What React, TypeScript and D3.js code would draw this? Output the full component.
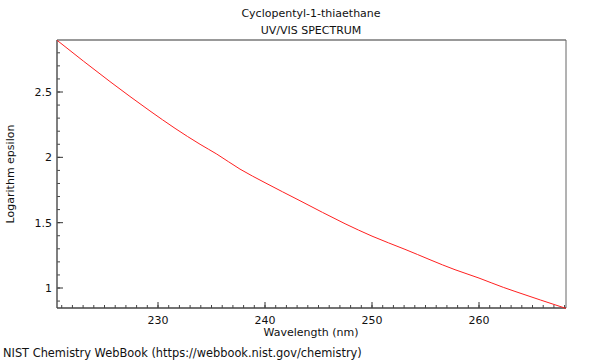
import React from "react";
import * as d3 from "d3";

const wavelengths = [220.56, 225.51, 229.25, 231.59, 233.93, 235.49, 237.66, 240, 243.27, 247.48, 250, 253.08, 257.76, 260, 262.27, 263.36, 268.13];
const logEps = [2.896, 2.58, 2.355, 2.222, 2.1, 2.025, 1.91, 1.806, 1.668, 1.492, 1.397, 1.296, 1.14, 1.076, 1.005, 0.974, 0.844];
const xTicks = [230, 240, 250, 260];
const yTicks = [1, 1.5, 2, 2.5];
const yTickLabels = ["1", "1.5", "2", "2.5"];

const W = 600, H = 360;
const L = 57, R = 566, T = 40, B = 308;
const FONT = "DejaVu Sans, sans-serif";

export default function App() {
  const x = d3.scaleLinear().domain([220.56, 268.13]).range([L, R]);
  const y = d3.scaleLinear().domain([0.847, 2.898]).range([B, T]);
  const data = wavelengths.map((w, i) => [w, logEps[i]] as [number, number]);
  const line = d3.line<[number, number]>().x(d => x(d[0])).y(d => y(d[1])).curve(d3.curveMonotoneX);
  const xMinor = d3.range(221, 269, 1);
  const yMinor = d3.range(0.9, 2.9, 0.1).map(v => Math.round(v * 10) / 10);

  return (
    <svg width={W} height={H} style={{ position: "absolute", left: 0, top: 0 }}>
      <rect width={W} height={H} fill="#fff" />
      <text x={311} y={17} textAnchor="middle" fontFamily={FONT} fontSize={11} fill="#111">Cyclopentyl-1-thiaethane</text>
      <text x={311} y={34} textAnchor="middle" fontFamily={FONT} fontSize={11} fill="#111">UV/VIS SPECTRUM</text>
      <line x1={L} x2={R} y1={T} y2={T} stroke="#999" strokeWidth={2} />
      <line x1={R} x2={R} y1={T} y2={B} stroke="#666" strokeWidth={1} />
      {xMinor.map(v => (
        <line key={"xm" + v} x1={x(v)} x2={x(v)} y1={B} y2={B - 3} stroke="#444" />
      ))}
      {xTicks.map(v => (
        <g key={"xt" + v}>
          <line x1={x(v)} x2={x(v)} y1={B} y2={B - 6} stroke="#333" />
          <text x={x(v)} y={B + 16} textAnchor="middle" fontFamily={FONT} fontSize={11} fill="#111">{v}</text>
        </g>
      ))}
      {yMinor.map(v => (
        <line key={"ym" + v} x1={L} x2={L + 3} y1={y(v)} y2={y(v)} stroke="#444" />
      ))}
      {yTicks.map((v, i) => (
        <g key={"yt" + v}>
          <line x1={L} x2={L + 6} y1={y(v)} y2={y(v)} stroke="#333" />
          <text x={L - 5} y={y(v) + 4} textAnchor="end" fontFamily={FONT} fontSize={11} fill="#111">{yTickLabels[i]}</text>
        </g>
      ))}
      <line x1={L} x2={L} y1={T} y2={B} stroke="#555" strokeWidth={1.5} />
      <line x1={L} x2={R} y1={B} y2={B} stroke="#444" strokeWidth={1.5} />
      <path d={line(data) || ""} fill="none" stroke="#ff2020" strokeWidth={1} />
      <text x={311} y={336} textAnchor="middle" fontFamily={FONT} fontSize={11} fill="#111">Wavelength (nm)</text>
      <text transform={`translate(14,174) rotate(-90)`} textAnchor="middle" fontFamily={FONT} fontSize={11} fill="#111">Logarithm epsilon</text>
      <text x={3} y={357} fontFamily={FONT} fontSize={11.4} fill="#111">NIST Chemistry WebBook (https://webbook.nist.gov/chemistry)</text>
    </svg>
  );
}
